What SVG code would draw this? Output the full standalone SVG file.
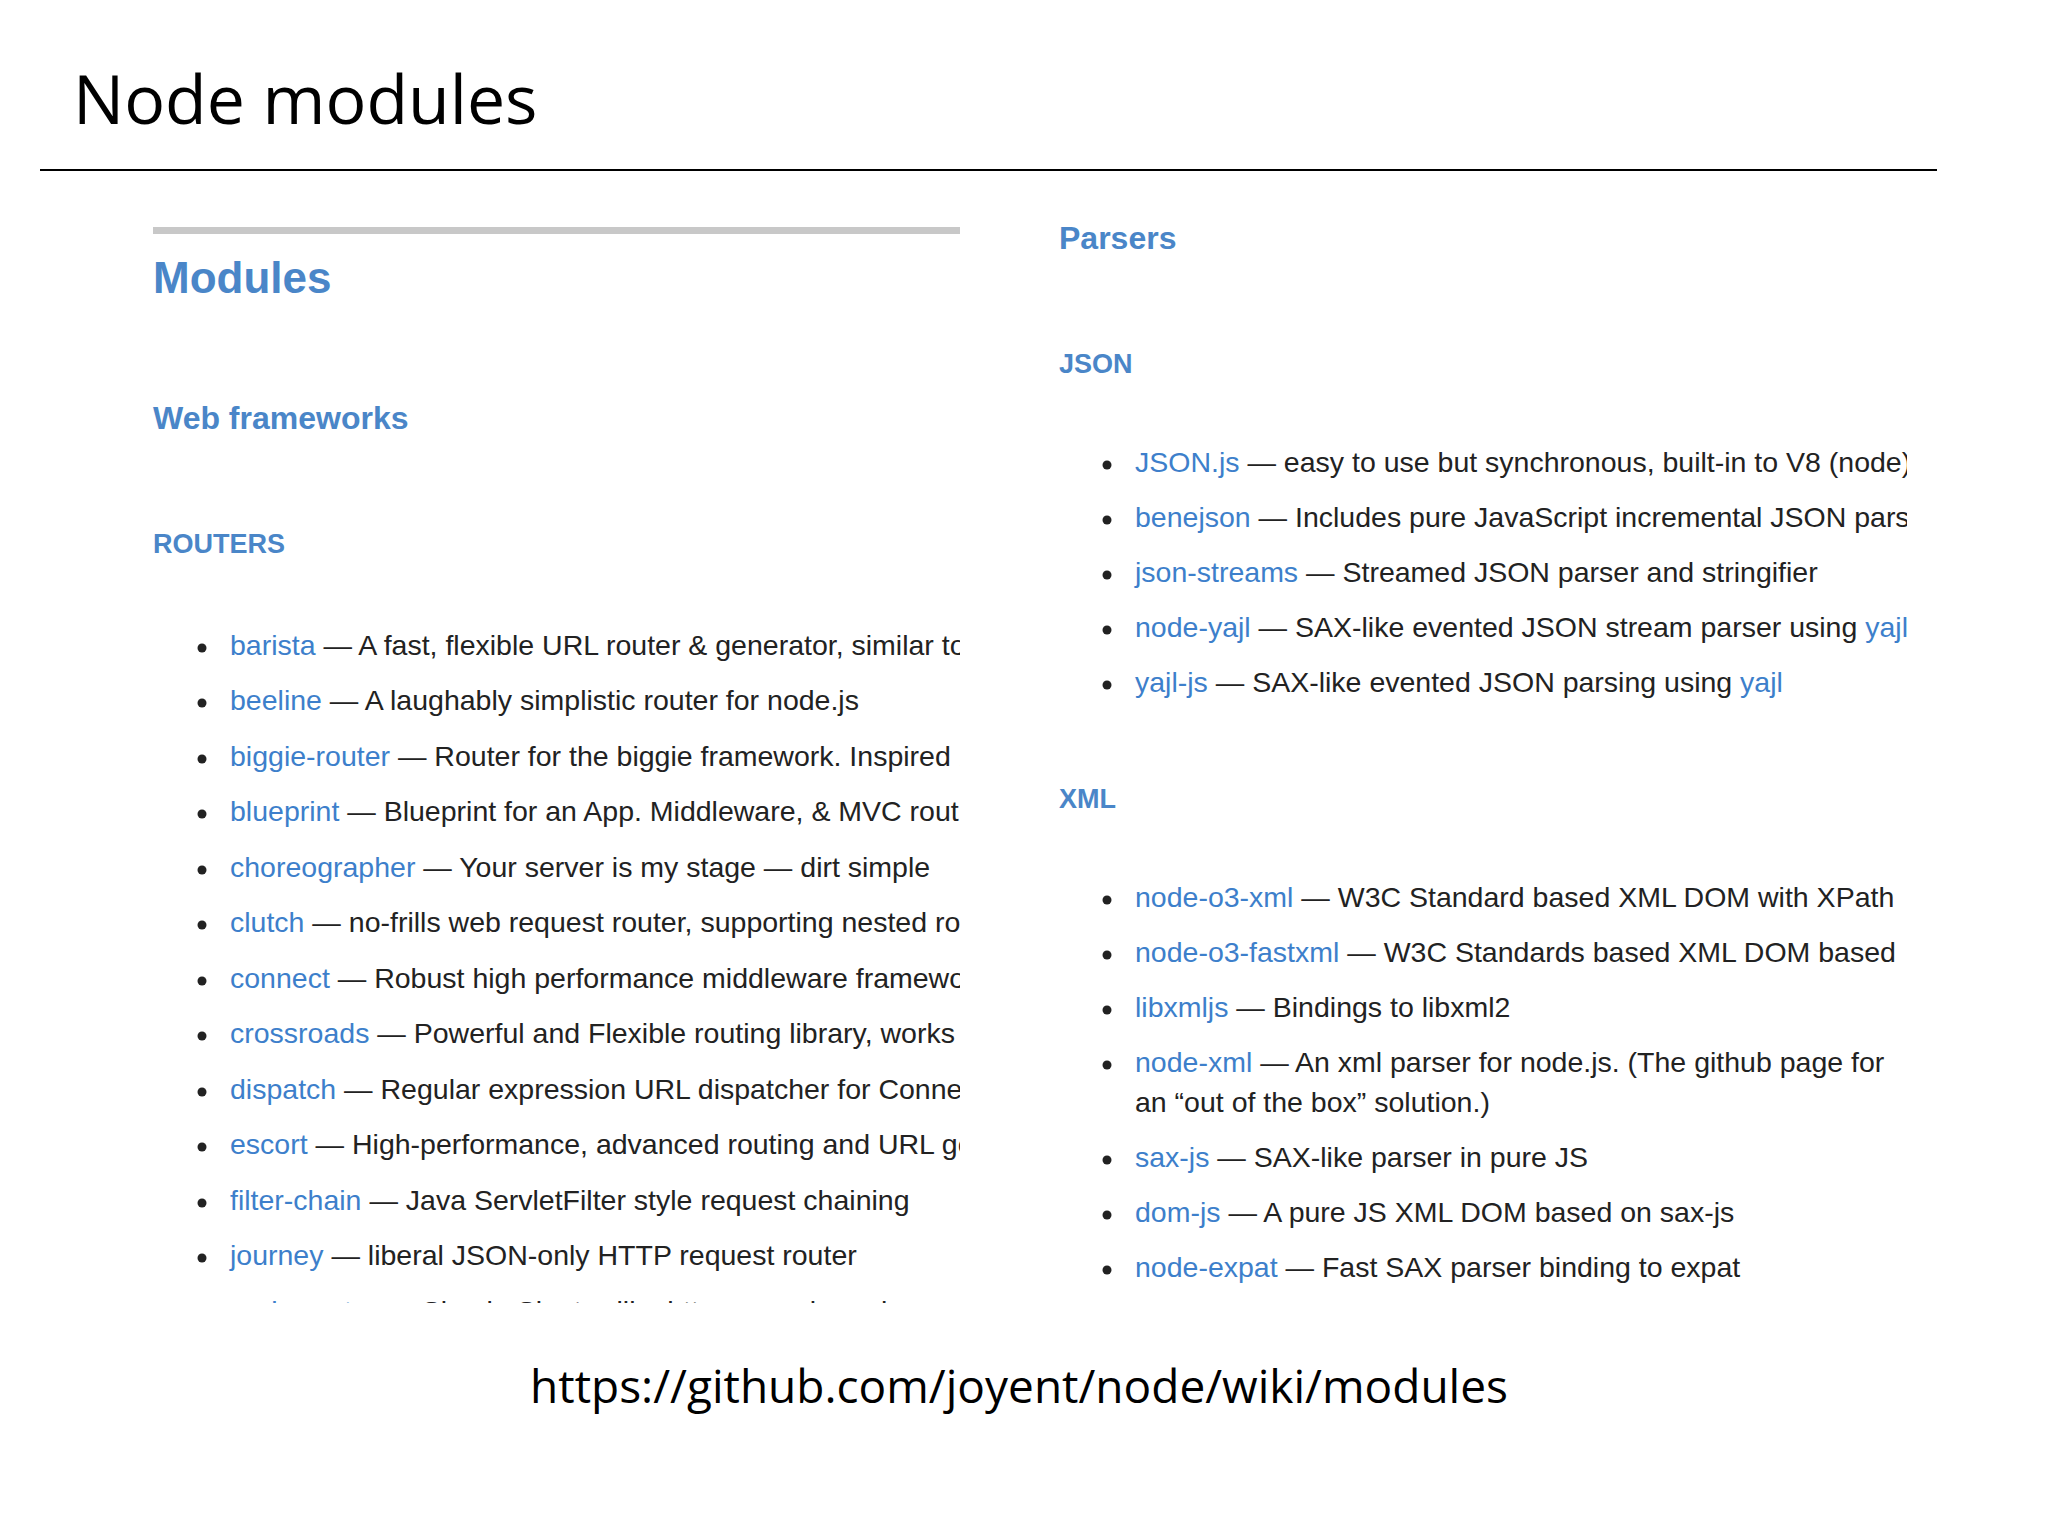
<svg xmlns="http://www.w3.org/2000/svg" width="2048" height="1536" viewBox="0 0 2048 1536">
<style>
.t{font-family:"Liberation Sans",Arial,sans-serif;font-size:28.5px;fill:#222}
.a{fill:#3d7fcb}
.h{font-family:"Liberation Sans",Arial,sans-serif;font-weight:bold;fill:#4a86c8}
.b{fill:#222}
</style>
<defs>
<clipPath id="cl"><rect x="150" y="600" width="810" height="703"/></clipPath>
<clipPath id="cr"><rect x="1050" y="420" width="857" height="900"/></clipPath>
</defs>
<rect width="2048" height="1536" fill="#fff"/>
<text x="73" y="124" font-family="'Open Sans',sans-serif" font-size="68" fill="#000">Node modules</text>
<line x1="40" y1="170" x2="1937" y2="170" stroke="#000" stroke-width="2"/>
<rect x="153" y="227" width="807" height="7" fill="#c8c8c8"/>
<text class="h" x="153" y="293" font-size="44">Modules</text>
<text class="h" x="153" y="429" font-size="32">Web frameworks</text>
<text class="h" x="153" y="553" font-size="27">ROUTERS</text>
<g clip-path="url(#cl)">
<g id="routers">
<circle class="b" cx="202" cy="648" r="4.5"/><text class="t" x="230" y="655"><tspan class="a">barista</tspan> — A fast, flexible URL router &amp; generator, similar to Rails</text>
<circle class="b" cx="202" cy="703" r="4.5"/><text class="t" x="230" y="710"><tspan class="a">beeline</tspan> — A laughably simplistic router for node.js</text>
<circle class="b" cx="202" cy="759" r="4.5"/><text class="t" x="230" y="766"><tspan class="a">biggie-router</tspan> — Router for the biggie framework. Inspired by</text>
<circle class="b" cx="202" cy="814" r="4.5"/><text class="t" x="230" y="821"><tspan class="a">blueprint</tspan> — Blueprint for an App. Middleware, &amp; MVC routing</text>
<circle class="b" cx="202" cy="870" r="4.5"/><text class="t" x="230" y="877"><tspan class="a">choreographer</tspan> — Your server is my stage — dirt simple</text>
<circle class="b" cx="202" cy="925" r="4.5"/><text class="t" x="230" y="932"><tspan class="a">clutch</tspan> — no-frills web request router, supporting nested routes</text>
<circle class="b" cx="202" cy="981" r="4.5"/><text class="t" x="230" y="988"><tspan class="a">connect</tspan> — Robust high performance middleware framework</text>
<circle class="b" cx="202" cy="1036" r="4.5"/><text class="t" x="230" y="1043"><tspan class="a">crossroads</tspan> — Powerful and Flexible routing library, works</text>
<circle class="b" cx="202" cy="1092" r="4.5"/><text class="t" x="230" y="1099"><tspan class="a">dispatch</tspan> — Regular expression URL dispatcher for Connect</text>
<circle class="b" cx="202" cy="1147" r="4.5"/><text class="t" x="230" y="1154"><tspan class="a">escort</tspan> — High-performance, advanced routing and URL generation</text>
<circle class="b" cx="202" cy="1203" r="4.5"/><text class="t" x="230" y="1210"><tspan class="a">filter-chain</tspan> — Java ServletFilter style request chaining</text>
<circle class="b" cx="202" cy="1258" r="4.5"/><text class="t" x="230" y="1265"><tspan class="a">journey</tspan> — liberal JSON-only HTTP request router</text>
<text class="t" x="230" y="1321"><tspan class="a">node-router</tspan> — Simple Sinatra-like http server based</text>
</g>
</g>
<text class="h" x="1059" y="249" font-size="32">Parsers</text>
<text class="h" x="1059" y="373" font-size="27">JSON</text>
<text class="h" x="1059" y="808" font-size="27">XML</text>
<g clip-path="url(#cr)">
<g id="parsers">
<circle class="b" cx="1107" cy="465" r="4.5"/><text class="t" x="1135" y="472"><tspan class="a">JSON.js</tspan> — easy to use but synchronous, built-in to V8 (node)</text>
<circle class="b" cx="1107" cy="520" r="4.5"/><text class="t" x="1135" y="527"><tspan class="a">benejson</tspan> — Includes pure JavaScript incremental JSON parser</text>
<circle class="b" cx="1107" cy="575" r="4.5"/><text class="t" x="1135" y="582"><tspan class="a">json-streams</tspan> — Streamed JSON parser and stringifier</text>
<circle class="b" cx="1107" cy="630" r="4.5"/><text class="t" x="1135" y="637"><tspan class="a">node-yajl</tspan> — SAX-like evented JSON stream parser using <tspan class="a">yajl</tspan></text>
<circle class="b" cx="1107" cy="685" r="4.5"/><text class="t" x="1135" y="692"><tspan class="a">yajl-js</tspan> — SAX-like evented JSON parsing using <tspan class="a">yajl</tspan></text>
<circle class="b" cx="1107" cy="900" r="4.5"/><text class="t" x="1135" y="907"><tspan class="a">node-o3-xml</tspan> — W3C Standard based XML DOM with XPath</text>
<circle class="b" cx="1107" cy="955" r="4.5"/><text class="t" x="1135" y="962"><tspan class="a">node-o3-fastxml</tspan> — W3C Standards based XML DOM based</text>
<circle class="b" cx="1107" cy="1010" r="4.5"/><text class="t" x="1135" y="1017"><tspan class="a">libxmljs</tspan> — Bindings to libxml2</text>
<circle class="b" cx="1107" cy="1065" r="4.5"/><text class="t" x="1135" y="1072"><tspan class="a">node-xml</tspan> — An xml parser for node.js. (The github page for</text>
<text class="t" x="1135" y="1112">an “out of the box” solution.)</text>
<circle class="b" cx="1107" cy="1160" r="4.5"/><text class="t" x="1135" y="1167"><tspan class="a">sax-js</tspan> — SAX-like parser in pure JS</text>
<circle class="b" cx="1107" cy="1215" r="4.5"/><text class="t" x="1135" y="1222"><tspan class="a">dom-js</tspan> — A pure JS XML DOM based on sax-js</text>
<circle class="b" cx="1107" cy="1270" r="4.5"/><text class="t" x="1135" y="1277"><tspan class="a">node-expat</tspan> — Fast SAX parser binding to expat</text>
</g>
</g>
<text x="1019" y="1403" text-anchor="middle" font-family="'Open Sans',sans-serif" font-size="46" fill="#000">https://github.com/joyent/node/wiki/modules</text>
</svg>
